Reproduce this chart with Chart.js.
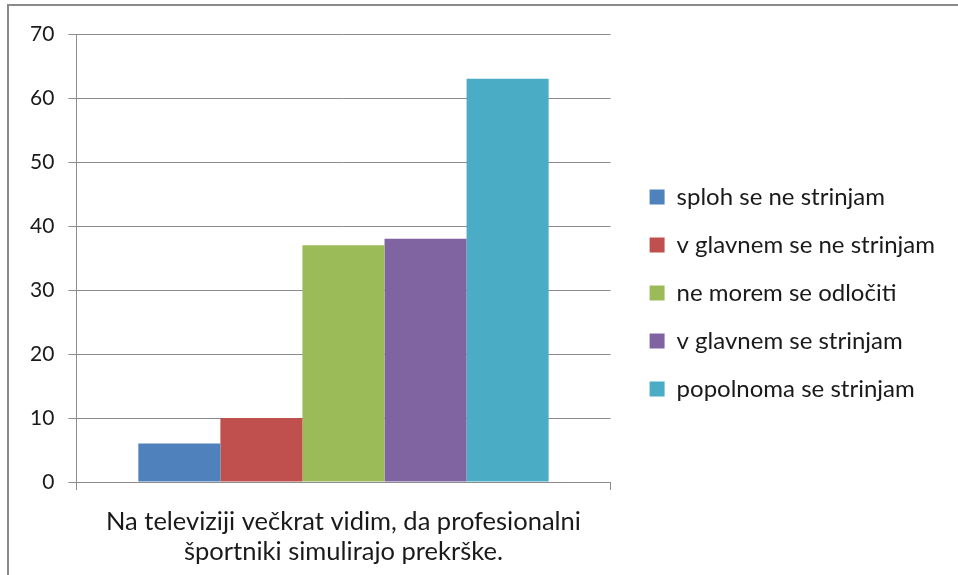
<!DOCTYPE html>
<html>
<head>
<meta charset="utf-8">
<script src="https://cdn.jsdelivr.net/npm/chart.js@4.4.0/dist/chart.umd.min.js"></script>
<style>
  body { margin: 0; background: #fff; }
  #wrap { width: 958px; height: 575px; }
</style>
</head>
<body>
<div id="wrap"><canvas id="answerChart" width="958" height="575"></canvas></div>
<script>
var categories = [["Na televiziji večkrat vidim, da profesionalni", "športniki simulirajo prekrške."]];
var seriesNames = ["sploh se ne strinjam", "v glavnem se ne strinjam", "ne morem se odločiti", "v glavnem se strinjam", "popolnoma se strinjam"];
var seriesValues = [[6], [10], [37], [38], [63]];
var seriesColors = ["#4f81bd", "#c0504d", "#9bbb59", "#8064a2", "#4bacc6"];
var yTicks = [0, 10, 20, 30, 40, 50, 60, 70];

// grey frame round the picture, like the office chart
var framePlugin = {
    id: 'frame',
    beforeDraw: function (chart) {
        var c = chart.ctx;
        c.save();
        c.strokeStyle = '#8a8a8a';
        c.lineWidth = 2;
        c.beginPath();
        c.moveTo(8, 580);
        c.lineTo(8, 5);
        c.lineTo(960, 5);
        c.stroke();
        c.restore();
    }
};

function drawChart() {
    var ctx = document.getElementById('answerChart').getContext('2d');
    var chart = new Chart(ctx, {
        type: 'bar',
        data: {
            labels: categories,
            datasets: seriesNames.map(function (name, i) {
                return {
                    label: name,
                    data: seriesValues[i],
                    backgroundColor: seriesColors[i],
                    borderWidth: 0,
                    categoryPercentage: 0.768,
                    barPercentage: 1
                };
            })
        },
        options: {
            responsive: false,
            animation: false,
            layout: { padding: { left: 16, top: 34, right: 13, bottom: 0 } },
            plugins: {
                tooltip: { enabled: false },
                legend: {
                    position: 'right',
                    align: 'start',
                    maxWidth: 400,
                    // empty title only pushes the items down
                    title: { display: true, text: '', padding: { top: 0, bottom: 0 }, font: { size: 100, lineHeight: 1.27 } },
                    labels: {
                        boxWidth: 15,
                        boxHeight: 15,
                        padding: 24,
                        color: '#1a1a1a',
                        font: { family: 'Lato', size: 24 }
                    }
                }
            },
            scales: {
                x: {
                    offset: true,
                    afterFit: function (axis) { axis.height = 93; },
                    grid: { drawOnChartArea: false, drawTicks: true, tickLength: 8, color: '#8c8c8c' },
                    border: { color: '#8c8c8c', width: 1 },
                    ticks: { color: '#1a1a1a', padding: 17, font: { family: 'Lato', size: 25.5, lineHeight: 1.18 } }
                },
                y: {
                    min: 0,
                    max: 70,
                    afterBuildTicks: function (axis) {
                        axis.ticks = yTicks.map(function (v) { return { value: v }; });
                    },
                    grid: { color: '#8c8c8c', tickLength: 8 },
                    border: { color: '#8c8c8c', width: 1 },
                    ticks: { color: '#1a1a1a', padding: 14, font: { family: 'Lato', size: 21 } }
                },
                gap: {
                    type: 'linear',
                    position: 'right',
                    grid: { display: false },
                    border: { display: false },
                    ticks: { display: false },
                    afterFit: function (axis) { axis.width = 15; }
                }
            }
        },
        plugins: [framePlugin]
    });
}

Promise.all([
    document.fonts.load('24px Lato'),
    document.fonts.load('25.5px Lato')
]).then(drawChart, drawChart);
</script>
</body>
</html>
